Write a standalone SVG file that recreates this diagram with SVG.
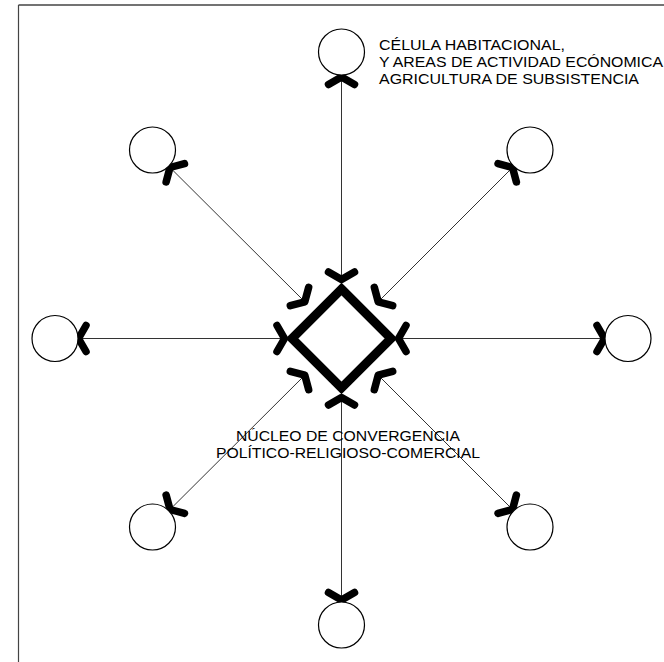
<svg xmlns="http://www.w3.org/2000/svg" width="664" height="662" viewBox="0 0 664 662">
<style>
.frame{fill:none;stroke:#444;}
.node{fill:#fff;stroke:#000;stroke-width:1.2;}
.conn{stroke:#333;stroke-width:1;fill:none;}
.chev{fill:none;stroke:#000;stroke-width:7.5;stroke-linecap:round;stroke-linejoin:round;}
.lbl{font-family:"Liberation Sans",Arial,sans-serif;font-size:14px;fill:#000;}
</style>
<defs>
<path id="ah" class="chev" d="M-7.5,-13 L0,0 L-7.5,13"/>
</defs>
<rect width="664" height="662" fill="#fff"/>
<g id="frame">
<line class="frame" x1="18.5" y1="5" x2="664" y2="5" stroke-width="1.6"/>
<line class="frame" x1="18.5" y1="5" x2="18.5" y2="662" stroke-width="1.2"/>
</g>
<g id="connectors">
<line class="conn" x1="341.5" y1="279.5" x2="341.5" y2="76"/>
<line class="conn" x1="341.5" y1="397.5" x2="341.5" y2="601"/>
<line class="conn" x1="284" y1="338.5" x2="79" y2="338.5"/>
<line class="conn" x1="399" y1="338.5" x2="604" y2="338.5"/>
<line class="conn" x1="304.7" y1="301.7" x2="169.5" y2="167"/>
<line class="conn" x1="378.3" y1="301.7" x2="513" y2="167"/>
<line class="conn" x1="304.7" y1="375.3" x2="169.5" y2="510"/>
<line class="conn" x1="378.3" y1="375.3" x2="513" y2="510"/>
<use href="#ah" transform="translate(341.5,77) rotate(-90)"/>
<use href="#ah" transform="translate(341.5,600) rotate(90)"/>
<use href="#ah" transform="translate(78.5,338.5) rotate(180)"/>
<use href="#ah" transform="translate(604.5,338.5)"/>
<use href="#ah" transform="translate(170,167.5) rotate(-135)"/>
<use href="#ah" transform="translate(512.5,167.5) rotate(-45)"/>
<use href="#ah" transform="translate(170,509.5) rotate(135)"/>
<use href="#ah" transform="translate(512.5,509.5) rotate(45)"/>
<use href="#ah" transform="translate(341.5,279.5) rotate(90)"/>
<use href="#ah" transform="translate(341.5,397.5) rotate(-90)"/>
<use href="#ah" transform="translate(284.5,338.5)"/>
<use href="#ah" transform="translate(398.5,338.5) rotate(180)"/>
<use href="#ah" transform="translate(304.8,301.8) rotate(45)"/>
<use href="#ah" transform="translate(378.2,301.8) rotate(135)"/>
<use href="#ah" transform="translate(304.8,375.2) rotate(-45)"/>
<use href="#ah" transform="translate(378.2,375.2) rotate(-135)"/>
</g>
<g id="center">
<path d="M341.5,289 L391,338.5 L341.5,388 L292,338.5 Z" fill="none" stroke="#000" stroke-width="9" stroke-linejoin="miter"/>
<text class="lbl" x="348" y="441" text-anchor="middle" textLength="224" lengthAdjust="spacingAndGlyphs">NÚCLEO DE CONVERGENCIA</text>
<text class="lbl" x="348" y="457.5" text-anchor="middle" textLength="264" lengthAdjust="spacingAndGlyphs">POLÍTICO-RELIGIOSO-COMERCIAL</text>
</g>
<g id="cell-top">
<circle class="node" cx="341.5" cy="52" r="23"/>
<text class="lbl" x="379" y="49.5" textLength="186" lengthAdjust="spacingAndGlyphs">CÉLULA HABITACIONAL,</text>
<text class="lbl" x="379" y="66.5" textLength="284" lengthAdjust="spacingAndGlyphs">Y AREAS DE ACTIVIDAD ECÓNOMICA</text>
<text class="lbl" x="379" y="83.5" textLength="260" lengthAdjust="spacingAndGlyphs">AGRICULTURA DE SUBSISTENCIA</text>
</g>
<g id="cell-bottom"><circle class="node" cx="341.5" cy="625" r="23"/></g>
<g id="cell-left"><circle class="node" cx="55" cy="338.5" r="23"/></g>
<g id="cell-right"><circle class="node" cx="628" cy="338.5" r="23"/></g>
<g id="cell-top-left"><circle class="node" cx="152.5" cy="150" r="23"/></g>
<g id="cell-top-right"><circle class="node" cx="530" cy="150" r="23"/></g>
<g id="cell-bottom-left"><circle class="node" cx="152.5" cy="527" r="23"/></g>
<g id="cell-bottom-right"><circle class="node" cx="530" cy="527" r="23"/></g>
</svg>
